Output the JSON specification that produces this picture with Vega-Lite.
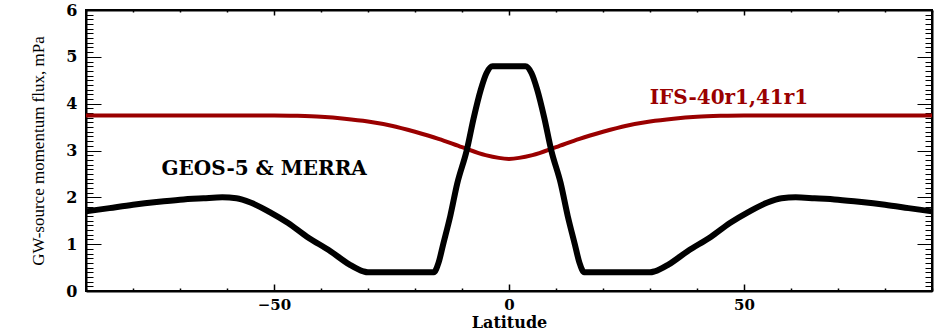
{
  "$schema": "https://vega.github.io/schema/vega-lite/v6.json",
  "width": 846,
  "height": 281,
  "autosize": {"type": "none"},
  "padding": {"left": 86, "top": 10, "right": 6, "bottom": 42},
  "background": "white",
  "config": {
    "view": {"stroke": "black", "strokeWidth": 2}
  },
  "datasets": {
    "lines": [
      {"lat": -90, "flux": 1.7, "model": "GEOS"},
      {"lat": -85, "flux": 1.77, "model": "GEOS"},
      {"lat": -80, "flux": 1.84, "model": "GEOS"},
      {"lat": -75, "flux": 1.9, "model": "GEOS"},
      {"lat": -70, "flux": 1.95, "model": "GEOS"},
      {"lat": -65, "flux": 1.98, "model": "GEOS"},
      {"lat": -61, "flux": 2.0, "model": "GEOS"},
      {"lat": -58, "flux": 1.98, "model": "GEOS"},
      {"lat": -55, "flux": 1.89, "model": "GEOS"},
      {"lat": -51, "flux": 1.69, "model": "GEOS"},
      {"lat": -47, "flux": 1.45, "model": "GEOS"},
      {"lat": -43, "flux": 1.16, "model": "GEOS"},
      {"lat": -38, "flux": 0.85, "model": "GEOS"},
      {"lat": -34, "flux": 0.57, "model": "GEOS"},
      {"lat": -31, "flux": 0.42, "model": "GEOS"},
      {"lat": -30, "flux": 0.4, "model": "GEOS"},
      {"lat": -16, "flux": 0.4, "model": "GEOS"},
      {"lat": -15, "flux": 0.6, "model": "GEOS"},
      {"lat": -14, "flux": 1.0, "model": "GEOS"},
      {"lat": -12.5, "flux": 1.6, "model": "GEOS"},
      {"lat": -11, "flux": 2.3, "model": "GEOS"},
      {"lat": -9, "flux": 3.0, "model": "GEOS"},
      {"lat": -7.5, "flux": 3.7, "model": "GEOS"},
      {"lat": -6, "flux": 4.3, "model": "GEOS"},
      {"lat": -4.8, "flux": 4.65, "model": "GEOS"},
      {"lat": -3.5, "flux": 4.8, "model": "GEOS"},
      {"lat": 3.5, "flux": 4.8, "model": "GEOS"},
      {"lat": 4.8, "flux": 4.65, "model": "GEOS"},
      {"lat": 6, "flux": 4.3, "model": "GEOS"},
      {"lat": 7.5, "flux": 3.7, "model": "GEOS"},
      {"lat": 9, "flux": 3.0, "model": "GEOS"},
      {"lat": 11, "flux": 2.3, "model": "GEOS"},
      {"lat": 12.5, "flux": 1.6, "model": "GEOS"},
      {"lat": 14, "flux": 1.0, "model": "GEOS"},
      {"lat": 15, "flux": 0.6, "model": "GEOS"},
      {"lat": 16, "flux": 0.4, "model": "GEOS"},
      {"lat": 30, "flux": 0.4, "model": "GEOS"},
      {"lat": 31, "flux": 0.42, "model": "GEOS"},
      {"lat": 34, "flux": 0.57, "model": "GEOS"},
      {"lat": 38, "flux": 0.85, "model": "GEOS"},
      {"lat": 43, "flux": 1.16, "model": "GEOS"},
      {"lat": 47, "flux": 1.45, "model": "GEOS"},
      {"lat": 51, "flux": 1.69, "model": "GEOS"},
      {"lat": 55, "flux": 1.89, "model": "GEOS"},
      {"lat": 58, "flux": 1.98, "model": "GEOS"},
      {"lat": 61, "flux": 2.0, "model": "GEOS"},
      {"lat": 65, "flux": 1.98, "model": "GEOS"},
      {"lat": 70, "flux": 1.95, "model": "GEOS"},
      {"lat": 75, "flux": 1.9, "model": "GEOS"},
      {"lat": 80, "flux": 1.84, "model": "GEOS"},
      {"lat": 85, "flux": 1.77, "model": "GEOS"},
      {"lat": 90, "flux": 1.7, "model": "GEOS"},
      {"lat": -90, "flux": 3.75, "model": "IFS"},
      {"lat": -50, "flux": 3.75, "model": "IFS"},
      {"lat": -45, "flux": 3.74, "model": "IFS"},
      {"lat": -40, "flux": 3.72, "model": "IFS"},
      {"lat": -35, "flux": 3.68, "model": "IFS"},
      {"lat": -30, "flux": 3.62, "model": "IFS"},
      {"lat": -25, "flux": 3.53, "model": "IFS"},
      {"lat": -20, "flux": 3.4, "model": "IFS"},
      {"lat": -15, "flux": 3.25, "model": "IFS"},
      {"lat": -10, "flux": 3.07, "model": "IFS"},
      {"lat": -5, "flux": 2.9, "model": "IFS"},
      {"lat": 0, "flux": 2.82, "model": "IFS"},
      {"lat": 5, "flux": 2.9, "model": "IFS"},
      {"lat": 10, "flux": 3.07, "model": "IFS"},
      {"lat": 15, "flux": 3.25, "model": "IFS"},
      {"lat": 20, "flux": 3.4, "model": "IFS"},
      {"lat": 25, "flux": 3.53, "model": "IFS"},
      {"lat": 30, "flux": 3.62, "model": "IFS"},
      {"lat": 35, "flux": 3.68, "model": "IFS"},
      {"lat": 40, "flux": 3.72, "model": "IFS"},
      {"lat": 45, "flux": 3.74, "model": "IFS"},
      {"lat": 50, "flux": 3.75, "model": "IFS"},
      {"lat": 90, "flux": 3.75, "model": "IFS"}
    ],
    "labels": [
      {"lat": -52.1, "flux": 2.61, "text": "GEOS-5 & MERRA", "model": "GEOS"},
      {"lat": 46.8, "flux": 4.13, "text": "IFS-40r1,41r1", "model": "IFS"}
    ]
  },
  "resolve": {"scale": {"x": "independent", "y": "independent"}, "axis": {"x": "independent", "y": "independent"}},
  "layer": [
    {
      "data": {"name": "lines"},
      "transform": [{"filter": "datum.model === 'IFS'"}],
      "mark": {"type": "line", "color": "#9a0000", "strokeWidth": 4, "interpolate": "monotone"},
      "encoding": {
        "x": {"field": "lat", "type": "quantitative", "scale": {"domain": [-90, 90], "nice": false, "zero": false},
          "axis": {"orient": "bottom", "values": [-50, 0, 50], "ticks": false, "domain": false, "grid": false, "title": "Latitude",
            "labelFont": "DejaVu Serif", "labelFontWeight": "bold", "labelFontSize": 15, "labelColor": "black", "labelPadding": 6,
            "titleFont": "DejaVu Serif", "titleFontWeight": "bold", "titleFontSize": 16, "titleColor": "black", "titlePadding": 2}},
        "y": {"field": "flux", "type": "quantitative", "scale": {"domain": [0, 6], "nice": false},
          "axis": {"orient": "left", "values": [0, 1, 2, 3, 4, 5, 6], "ticks": false, "domain": false, "grid": false, "title": "GW-source momentum flux, mPa",
            "labelFont": "DejaVu Serif", "labelFontWeight": "bold", "labelFontSize": 16, "labelColor": "black", "labelPadding": 9,
            "titleFont": "Liberation Serif", "titleFontWeight": "normal", "titleFontSize": 17, "titleColor": "black", "titlePadding": 18}}
      }
    },
    {
      "data": {"name": "lines"},
      "transform": [{"filter": "datum.model === 'GEOS'"}],
      "mark": {"type": "line", "color": "black", "strokeWidth": 6, "strokeJoin": "round", "interpolate": "monotone"},
      "encoding": {
        "x": {"field": "lat", "type": "quantitative", "scale": {"domain": [-90, 90], "nice": false, "zero": false},
          "axis": {"orient": "bottom", "tickCount": 18, "labels": false, "title": null, "grid": false, "tickColor": "black", "tickWidth": 1.5, "domainColor": "black", "domainWidth": 2,
            "tickSize": {"condition": {"test": "datum.value % 50 === 0", "value": -7}, "value": -3}}},
        "y": {"field": "flux", "type": "quantitative", "scale": {"domain": [0, 6], "nice": false},
          "axis": {"orient": "left", "tickCount": 60, "labels": false, "title": null, "grid": false, "tickColor": "black", "tickWidth": 1, "domainColor": "black", "domainWidth": 2,
            "tickSize": {"condition": {"test": "abs(datum.value - round(datum.value)) < 0.01", "value": -15}, "value": -7}}}
      }
    },
    {
      "data": {"name": "labels"},
      "mark": {"type": "text", "font": "DejaVu Serif", "fontWeight": "bold", "fontSize": 20, "align": "center", "baseline": "middle"},
      "encoding": {
        "x": {"field": "lat", "type": "quantitative", "scale": {"domain": [-90, 90], "nice": false, "zero": false},
          "axis": {"orient": "top", "tickCount": 18, "labels": false, "title": null, "grid": false, "tickColor": "black", "tickWidth": 1.5, "domainColor": "black", "domainWidth": 2,
            "tickSize": {"condition": {"test": "datum.value % 50 === 0", "value": -5}, "value": -2}}},
        "y": {"field": "flux", "type": "quantitative", "scale": {"domain": [0, 6], "nice": false},
          "axis": {"orient": "right", "tickCount": 60, "labels": false, "title": null, "grid": false, "tickColor": "black", "tickWidth": 1, "domainColor": "black", "domainWidth": 2,
            "tickSize": {"condition": {"test": "abs(datum.value - round(datum.value)) < 0.01", "value": -15}, "value": -7}}},
        "text": {"field": "text", "type": "nominal"},
        "color": {"field": "model", "type": "nominal", "scale": {"domain": ["GEOS", "IFS"], "range": ["black", "#9a0000"]}, "legend": null}
      }
    }
  ]
}
